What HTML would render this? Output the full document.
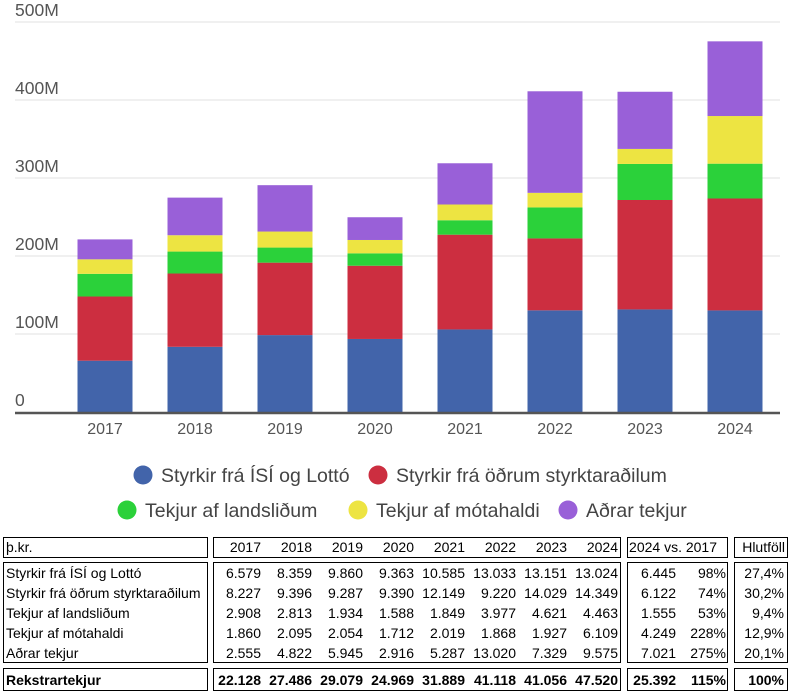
<!DOCTYPE html>
<html><head><meta charset="utf-8"><style>
body{margin:0;width:791px;height:694px;background:#fff;font-family:"Liberation Sans",sans-serif;position:relative;overflow:hidden}
svg{position:absolute;left:0;top:0}
.box{position:absolute;border:1.5px solid #000;box-sizing:border-box}
.t{position:absolute;font-size:14px;color:#000;white-space:nowrap;line-height:16px}
.b{font-weight:bold}
</style></head><body>
<svg id="chart" width="791" height="530"></svg>
<div id="table"></div>
<script>
const years=["2017","2018","2019","2020","2021","2022","2023","2024"];
const seriesNames=["Styrkir frá ÍSÍ og Lottó","Styrkir frá öðrum styrktaraðilum","Tekjur af landsliðum","Tekjur af mótahaldi","Aðrar tekjur"];
const isi=[6.579,8.359,9.860,9.363,10.585,13.033,13.151,13.024];
const styrk=[8.227,9.396,9.287,9.390,12.149,9.220,14.029,14.349];
const lands=[2.908,2.813,1.934,1.588,1.849,3.977,4.621,4.463];
const mot=[1.860,2.095,2.054,1.712,2.019,1.868,1.927,6.109];
const adrar=[2.555,4.822,5.945,2.916,5.287,13.020,7.329,9.575];
const totals=[22.128,27.486,29.079,24.969,31.889,41.118,41.056,47.520];
const diffAbs=["6.445","6.122","1.555","4.249","7.021","25.392"];
const diffPct=["98%","74%","53%","228%","275%","115%"];
const shares=["27,4%","30,2%","9,4%","12,9%","20,1%","100%"];
const yTicks=[0,100,200,300,400,500];
const yTickLabels=["0","100M","200M","300M","400M","500M"];
const colors=["#4264AA","#CC2E40","#2BD13A","#EDE442","#9960D8"];
const series=[isi,styrk,lands,mot,adrar];
const NS="http://www.w3.org/2000/svg";
const svg=document.getElementById('chart');
const y0=412,pxPer100=78;
const yScale=v=>y0-v*pxPer100/100;
const xCenter=i=>105+i*90.0;
const bw=55;
function mk(tag,attrs,parent){const e=document.createElementNS(NS,tag);for(const k in attrs)e.setAttribute(k,attrs[k]);(parent||svg).appendChild(e);return e;}
yTicks.forEach((t,i)=>{
  if(t>0){const l=mk('line',{x1:15,x2:780,y1:yScale(t),y2:yScale(t),stroke:'#e6e6e6','stroke-width':1.2});
  
  }
  const tx=mk('text',{x:15,y:yScale(t)-6,'font-size':17.5,fill:'#555','font-family':'Liberation Sans'});
  tx.textContent=yTickLabels[i];
  
  
});
years.forEach((yr,i)=>{
  let acc=0;
  series.forEach((s,k)=>{
    const v=s[i]*10;
    const r=mk('rect',{x:xCenter(i)-bw/2,y:yScale(acc+v),width:bw,height:v*pxPer100/100,fill:colors[k]});
    
    
    acc+=v;
  });
  const tx=mk('text',{x:xCenter(i),y:434,'font-size':16,fill:'#555','text-anchor':'middle','font-family':'Liberation Sans'});
  tx.textContent=yr;
  
  
});
const ax=mk('line',{x1:15,x2:780,y1:y0+1,y2:y0+1,stroke:'#555','stroke-width':2.5});


const legendPos=[[143,475],[378,475],[127,510],[358,510],[568,510]];
seriesNames.forEach((n,k)=>{
  const g=mk('g',{});
  
  
  mk('circle',{cx:legendPos[k][0],cy:legendPos[k][1],r:9.5,fill:colors[k]},g);
  const tx=mk('text',{x:legendPos[k][0]+18,y:legendPos[k][1]+7,'font-size':19.5,fill:'#444','font-family':'Liberation Sans'},g);
  tx.textContent=n;
});
const tb=document.getElementById('table');
function box(x,y,w,h,name){const d=document.createElement('div');d.className='box';d.style.cssText=`left:${x}px;top:${y}px;width:${w}px;height:${h}px`;tb.appendChild(d);}
function txt(s,x,y,right,bold,name){const d=document.createElement('div');d.className='t'+(bold?' b':'');d.textContent=s;
  if(right){d.style.right=(791-x)+'px';}else d.style.left=x+'px';d.style.top=(y-8)+'px';
  tb.appendChild(d);}
box(3,537,205,21,'header-label-box');box(213,537,408,21,'header-years-box');box(627,537,101,21,'header-vs-box');box(734,537,54,21,'header-share-box');
box(3,562,205,101,'body-label-box');box(213,562,408,101,'body-years-box');box(627,562,101,101,'body-vs-box');box(734,562,54,101,'body-share-box');
box(3,668,205,23,'total-label-box');box(213,668,408,23,'total-years-box');box(627,668,101,23,'total-vs-box');box(734,668,54,23,'total-share-box');
const fmt=v=>v.toFixed(3);
txt('þ.kr.',6,547,false,false,'unit-label');
years.forEach((yr,i)=>txt(yr,261+i*51,547,true,false,'year-header'));
txt('2024 vs. 2017',717,547,true,false,'vs-header');
txt('Hlutföll',785,547,true,false,'share-header');
seriesNames.forEach((n,k)=>{
  const cy=573+k*20;
  txt(n,6,cy,false,false,'row-label');
  series[k].forEach((v,i)=>txt(fmt(v),261+i*51,cy,true,false,'cell-value'));
  txt(diffAbs[k],676,cy,true,false,'diff-abs');
  txt(diffPct[k],726,cy,true,false,'diff-pct');
  txt(shares[k],784,cy,true,false,'share-value');
});
txt('Rekstrartekjur',6,680,false,true,'total-label');
totals.forEach((v,i)=>txt(fmt(v),261+i*51,680,true,true,'total-value'));
txt(diffAbs[5],676,680,true,true,'diff-abs-total');
txt(diffPct[5],726,680,true,true,'diff-pct-total');
txt(shares[5],784,680,true,true,'share-total');
</script>
</body></html>
